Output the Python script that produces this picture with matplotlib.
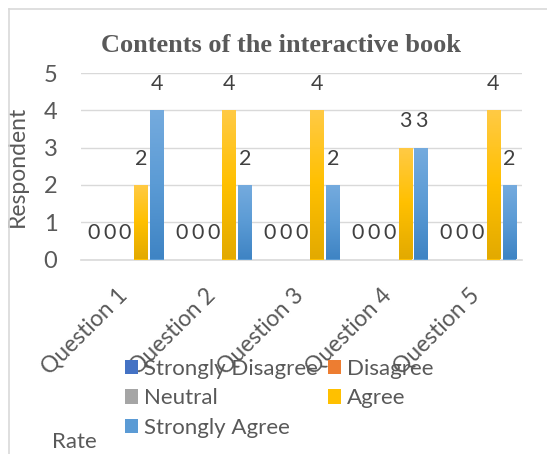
import matplotlib.pyplot as plt
import numpy as np
from matplotlib.colors import LinearSegmentedColormap
from matplotlib.lines import Line2D
from matplotlib.patches import Patch
from matplotlib.transforms import ScaledTranslation

categories = ["Question 1", "Question 2", "Question 3", "Question 4", "Question 5"]
series_names = ["Strongly Disagree", "Disagree", "Neutral", "Agree", "Strongly Agree"]
strongly_disagree = [0, 0, 0, 0, 0]
disagree = [0, 0, 0, 0, 0]
neutral = [0, 0, 0, 0, 0]
agree = [2, 4, 4, 3, 4]
strongly_agree = [4, 2, 2, 3, 2]
yticks = [0, 1, 2, 3, 4, 5]

# (top, middle, bottom) shades for the excel-like gradient fill
shades = [
    ("#5a86d6", "#4472c4", "#3560ad"),
    ("#f4955a", "#ed7d31", "#d86a20"),
    ("#b8b8b8", "#a5a5a5", "#909090"),
    ("#ffca45", "#ffc000", "#e3aa00"),
    ("#75abde", "#5b9bd5", "#3f84c4"),
]

TXT = "#595959"
FONT = ["Lato", "DejaVu Sans"]
plt.rcParams["font.family"] = FONT

fig = plt.figure(figsize=(5.47, 4.54), dpi=100)
ax = fig.add_axes([81 / 547, 1 - 259.5 / 454, 440.6 / 547, 186.5 / 454])

data = [strongly_disagree, disagree, neutral, agree, strongly_agree]
x = np.arange(len(categories))
step = 0.18
width = 0.153

for i, (name, vals) in enumerate(zip(series_names, data)):
    pos = x + (i - 2) * step
    bars = ax.bar(pos, vals, width, color=shades[i][1], label=name, zorder=3)
    cmap = LinearSegmentedColormap.from_list(name, list(shades[i][::-1]))
    for b, v in zip(bars, vals):
        if v > 0:
            grad = np.linspace(1, 0, 64).reshape(-1, 1)
            im = ax.imshow(grad, cmap=cmap, aspect="auto", zorder=3.5,
                           extent=[b.get_x(), b.get_x() + b.get_width(), 0, v])
            im.set_clip_path(b)
        ax.annotate(str(v), (b.get_x() + b.get_width() / 2, v),
                    xytext=(0, 19), textcoords="offset points",
                    ha="center", va="center", fontsize=15.5, color="#404040")

ax.set_xlim(-0.5, len(categories) - 0.5)
ax.set_ylim(0, 5)
ax.set_yticks(yticks)
ax.grid(axis="y", color="#d9d9d9", linewidth=1, zorder=0)
for s in ["top", "right", "left"]:
    ax.spines[s].set_visible(False)
ax.spines["bottom"].set_color("#d9d9d9")
ax.spines["bottom"].set_linewidth(1.2)
ax.tick_params(axis="y", length=0, pad=17, labelsize=17, labelcolor=TXT)
ax.tick_params(axis="x", length=0, pad=18)
ax.set_xticks(x)
ax.set_xticklabels(categories, rotation=45, ha="right", va="top",
                   fontsize=16.5, color=TXT)
shift = ScaledTranslation(6 / 100, 0, fig.dpi_scale_trans)
for lab in ax.get_xticklabels():
    lab.set_transform(lab.get_transform() + shift)

ax.set_ylabel("Respondent", fontsize=16.5, color=TXT)
ax.yaxis.set_label_coords(-53 / 440.6, 0.5)

fig.text(281 / 547, 1 - 45 / 454, "Contents of the interactive book",
         ha="center", va="center", fontsize=19, fontweight="bold",
         color=TXT, family="Liberation Serif")

order = [0, 2, 4, 1, 3]
handles = [Patch(facecolor=shades[i][1], label=series_names[i]) for i in order]
fig.legend(handles=handles, ncol=2, loc="upper left",
           bbox_to_anchor=(125 / 547, 1 - 359 / 454), frameon=False,
           fontsize=16, labelcolor=TXT, handlelength=0.6, handleheight=0.6,
           handletextpad=0.25, columnspacing=0.45, labelspacing=0.42,
           borderpad=0, borderaxespad=0)

fig.text(52 / 547, 1 - 441.7 / 454, "Rate", ha="left", va="center",
         fontsize=16, color=TXT)

# light frame around the chart (top and left visible)
fig.add_artist(Line2D([8.5 / 547, 8.5 / 547], [0, 1 - 8.5 / 454],
                      color="#d9d9d9", linewidth=1.2))
fig.add_artist(Line2D([8.5 / 547, 1], [1 - 8.5 / 454, 1 - 8.5 / 454],
                      color="#d9d9d9", linewidth=1.2))

fig.savefig("out.png", dpi=100)
